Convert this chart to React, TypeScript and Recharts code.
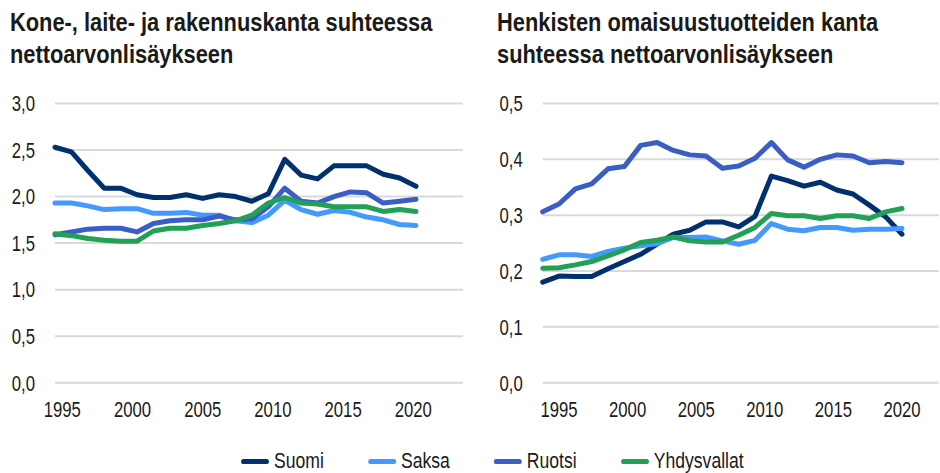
import React from "react";
import { LineChart, Line, XAxis, YAxis, CartesianGrid } from "recharts";

// Data periods (23 annual observations)
const years = [1995, 1996, 1997, 1998, 1999, 2000, 2001, 2002, 2003, 2004, 2005, 2006, 2007, 2008, 2009, 2010, 2011, 2012, 2013, 2014, 2015, 2016, 2017];
const xTickLabels = [1995, 2000, 2005, 2010, 2015, 2020];

const leftTitle = ["Kone-, laite- ja rakennuskanta suhteessa", "nettoarvonlisäykseen"];
const rightTitle = ["Henkisten omaisuustuotteiden kanta", "suhteessa nettoarvonlisäykseen"];

const leftTicks = [0, 0.5, 1, 1.5, 2, 2.5, 3];
const rightTicks = [0, 0.1, 0.2, 0.3, 0.4, 0.5];

const seriesNames = ["Suomi", "Saksa", "Ruotsi", "Yhdysvallat"];
const seriesColors = ["#00306e", "#4499ff", "#3a5ec4", "#22a055"];

const leftSuomi = [2.53, 2.48, 2.28, 2.09, 2.09, 2.02, 1.99, 1.99, 2.02, 1.98, 2.02, 2.0, 1.95, 2.03, 2.4, 2.23, 2.19, 2.33, 2.33, 2.33, 2.24, 2.2, 2.11];
const leftSaksa = [1.93, 1.93, 1.9, 1.86, 1.87, 1.87, 1.82, 1.82, 1.83, 1.8, 1.8, 1.74, 1.72, 1.8, 1.96, 1.86, 1.81, 1.85, 1.83, 1.78, 1.75, 1.7, 1.69];
const leftRuotsi = [1.59, 1.62, 1.65, 1.66, 1.66, 1.62, 1.71, 1.74, 1.75, 1.75, 1.79, 1.75, 1.76, 1.89, 2.09, 1.95, 1.93, 2.0, 2.05, 2.04, 1.93, 1.95, 1.97];
const leftUSA = [1.6, 1.58, 1.55, 1.53, 1.52, 1.52, 1.63, 1.66, 1.66, 1.69, 1.71, 1.74, 1.8, 1.93, 1.99, 1.93, 1.92, 1.89, 1.89, 1.89, 1.84, 1.86, 1.84];

const rightSuomi = [0.18, 0.191, 0.19, 0.19, 0.204, 0.217, 0.23, 0.248, 0.266, 0.273, 0.288, 0.288, 0.279, 0.298, 0.37, 0.362, 0.352, 0.359, 0.345, 0.338, 0.318, 0.297, 0.266];
const rightSaksa = [0.221, 0.229, 0.229, 0.226, 0.235, 0.241, 0.245, 0.249, 0.26, 0.26, 0.261, 0.254, 0.248, 0.255, 0.285, 0.275, 0.272, 0.278, 0.278, 0.273, 0.275, 0.275, 0.276];
const rightRuotsi = [0.306, 0.32, 0.347, 0.356, 0.383, 0.387, 0.425, 0.43, 0.416, 0.408, 0.406, 0.384, 0.388, 0.402, 0.43, 0.399, 0.386, 0.4, 0.408, 0.406, 0.394, 0.396, 0.394];
const rightUSA = [0.205, 0.206, 0.211, 0.217, 0.227, 0.238, 0.251, 0.255, 0.261, 0.254, 0.252, 0.252, 0.264, 0.278, 0.303, 0.299, 0.299, 0.294, 0.299, 0.299, 0.294, 0.306, 0.312];

const buildRows = (cols: number[][]) =>
  years.map((year, i) => {
    const row: Record<string, number> = { year };
    seriesNames.forEach((n, k) => {
      row[n] = cols[k][i];
    });
    return row;
  });

const leftData = buildRows([leftSuomi, leftSaksa, leftRuotsi, leftUSA]);
const rightData = buildRows([rightSuomi, rightSaksa, rightRuotsi, rightUSA]);

const FONT = "'Liberation Sans', Arial, sans-serif";
const TEXT = "#1a1a1a";
const NARROW = 0.76;
const LEGEND_NARROW = 0.8;
const fmt = (v: number) => v.toFixed(1).replace(".", ",");

const XTick = (props: any) => {
  const { x, y, payload } = props;
  return (
    <text
      transform={`translate(${x},${y}) scale(${NARROW},1)`}
      textAnchor="middle"
      dy="0.71em"
      fill={TEXT}
      fontSize={22}
      fontFamily={FONT}
    >
      {payload.value}
    </text>
  );
};

const YTick = (props: any) => {
  const { x, y, payload } = props;
  return (
    <text
      transform={`translate(${x},${y}) scale(${NARROW},1)`}
      textAnchor="end"
      dy="0.355em"
      fill={TEXT}
      fontSize={22}
      fontFamily={FONT}
    >
      {fmt(payload.value)}
    </text>
  );
};

type PanelProps = {
  data: Record<string, number>[];
  ticks: number[];
  yMax: number;
  yWidth: number;
  marginRight: number;
  dataPadRight: number;
  labelDomain: [number, number];
};

function Panel({ data, ticks, yMax, yWidth, marginRight, dataPadRight, labelDomain }: PanelProps) {
  return (
    <LineChart
      width={470}
      height={430}
      data={data}
      margin={{ top: 103.5, right: marginRight, bottom: 17.3, left: 10 }}
    >
      <CartesianGrid horizontal vertical={false} stroke="#d9d9d9" strokeWidth={2} xAxisId="lab" />
      <XAxis
        xAxisId="lab"
        dataKey="year"
        type="number"
        domain={labelDomain}
        allowDataOverflow
        ticks={xTickLabels}
        interval={0}
        axisLine={false}
        tickLine={false}
        tickMargin={13}
        height={30}
        tick={<XTick />}
      />
      <XAxis
        xAxisId="dat"
        dataKey="year"
        type="number"
        domain={[years[0], years[years.length - 1]]}
        padding={{ left: 0, right: dataPadRight }}
        height={0}
        hide
      />
      <YAxis
        domain={[0, yMax]}
        ticks={ticks}
        interval={0}
        width={yWidth}
        axisLine={false}
        tickLine={false}
        tickMargin={14}
        tick={<YTick />}
      />
      {seriesNames.map((n, k) => (
        <Line
          key={n}
          xAxisId="dat"
          dataKey={n}
          type="linear"
          stroke={seriesColors[k]}
          strokeWidth={5}
          strokeLinejoin="round"
          strokeLinecap="round"
          dot={false}
          activeDot={false}
          isAnimationActive={false}
        />
      ))}
    </LineChart>
  );
}

const TITLE_SCALE = 0.84;
const titleStyle: React.CSSProperties = {
  position: "absolute",
  top: 6,
  fontFamily: FONT,
  fontWeight: 700,
  fontSize: 26,
  lineHeight: "32px",
  color: TEXT,
  whiteSpace: "nowrap",
  transform: `scaleX(${TITLE_SCALE})`,
  transformOrigin: "left top",
};

export default function App() {
  return (
    <div style={{ position: "absolute", left: 0, top: 0, width: 940, height: 473, background: "#fff", overflow: "hidden" }}>
      <div style={{ ...titleStyle, left: 10 }}>
        {leftTitle.map((t) => (
          <div key={t}>{t}</div>
        ))}
      </div>
      <div style={{ ...titleStyle, left: 497 }}>
        {rightTitle.map((t) => (
          <div key={t}>{t}</div>
        ))}
      </div>
      <div style={{ position: "absolute", left: 0, top: 0 }}>
        <Panel
          data={leftData}
          ticks={leftTicks}
          yMax={3}
          yWidth={45}
          marginRight={7}
          dataPadRight={47}
          labelDomain={[1994.48, 2023.54]}
        />
      </div>
      <div style={{ position: "absolute", left: 470, top: 0 }}>
        <Panel
          data={rightData}
          ticks={rightTicks}
          yMax={0.5}
          yWidth={62.7}
          marginRight={1}
          dataPadRight={37}
          labelDomain={[1993.81, 2022.7]}
        />
      </div>
      <div
        style={{
          position: "absolute",
          left: 241,
          top: 448,
          display: "flex",
          alignItems: "center",
          fontFamily: FONT,
          fontSize: 22,
          color: TEXT,
          lineHeight: "26px",
          whiteSpace: "nowrap",
          transform: `scaleX(${LEGEND_NARROW})`,
          transformOrigin: "left center",
        }}
      >
        {seriesNames.map((n, k) => (
          <div key={n} style={{ display: "flex", alignItems: "center", marginRight: 44 / LEGEND_NARROW }}>
            <div
              style={{
                width: 28 / LEGEND_NARROW,
                height: 5,
                borderRadius: 3,
                background: seriesColors[k],
                marginRight: 5 / LEGEND_NARROW,
              }}
            />
            <span>{n}</span>
          </div>
        ))}
      </div>
    </div>
  );
}
